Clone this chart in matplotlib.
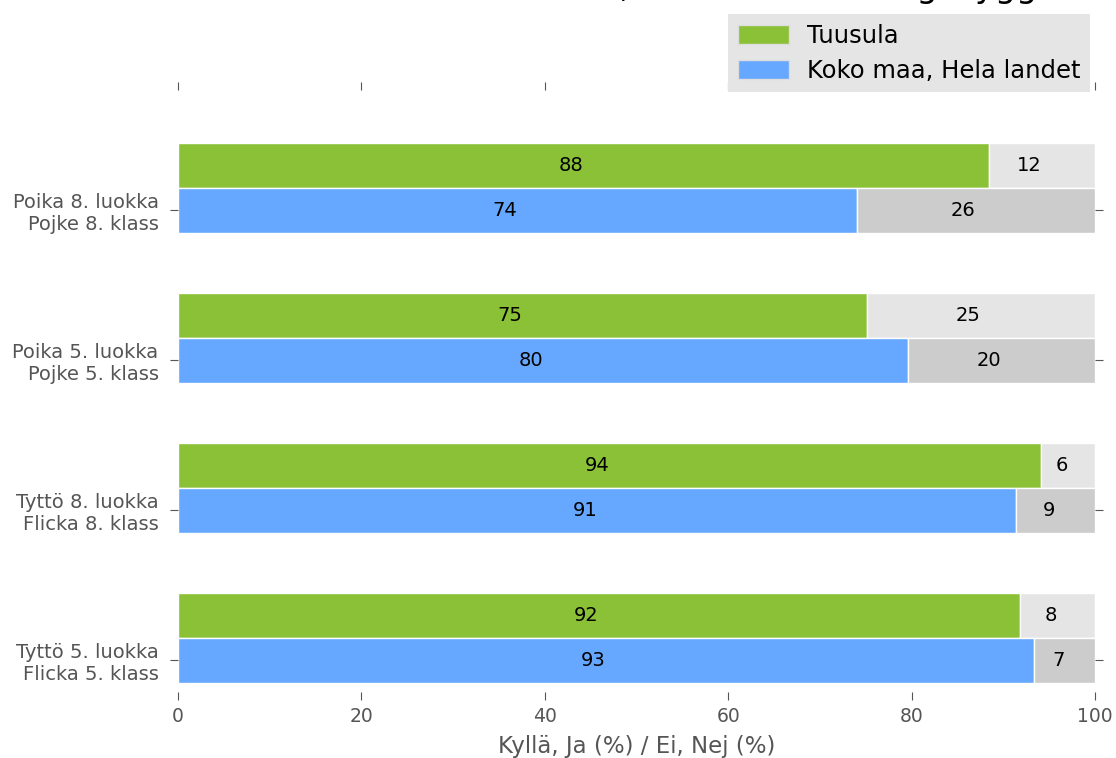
import numpy as np
import matplotlib
matplotlib.use('Agg')
import matplotlib.pyplot as plt
from matplotlib.patches import Patch

# data, top group first
groups = ['Poika 8. luokka\nPojke 8. klass',
          'Poika 5. luokka\nPojke 5. klass',
          'Tyttö 8. luokka\nFlicka 8. klass',
          'Tyttö 5. luokka\nFlicka 5. klass']
tuusula = [88.4, 75.1, 94.1, 91.8]     # Kyllä / Ja, Tuusula
koko_maa = [74.0, 79.6, 91.4, 93.3]    # Kyllä / Ja, Koko maa
series_names = ['Tuusula', 'Koko maa, Hela landet']
xticks = [0, 20, 40, 60, 80, 100]
title = 'Oppilas tuntee olonsa turvalliseksi koulussa, Eleven känner sig trygg i skolan, %'
xlabel = 'Kyllä, Ja (%) / Ei, Nej (%)'

green = '#8BC136'
blue = '#66A8FF'
grey_light = '#E5E5E5'
grey_dark = '#CCCCCC'
txt_grey = '#555555'

fig = plt.figure(figsize=(11.16, 7.58), dpi=100)
ax = fig.add_axes([0.1595, 0.0871, 0.8217, 0.7942])

pos = np.arange(len(groups))[::-1]   # top group highest
h = 0.3
tu = np.array(tuusula)
km = np.array(koko_maa)

ax.barh(pos + h / 2, tu, height=h, color=green, edgecolor='white', linewidth=1)
ax.barh(pos + h / 2, 100 - tu, left=tu, height=h, color=grey_light, edgecolor='white', linewidth=1)
ax.barh(pos - h / 2, km, height=h, color=blue, edgecolor='white', linewidth=1)
ax.barh(pos - h / 2, 100 - km, left=km, height=h, color=grey_dark, edgecolor='white', linewidth=1)

# value labels (right edge sits at the middle of each segment, like the original)
for p, a, b in zip(pos, tu, km):
    ax.text(a / 2, p + h / 2, '%.0f' % a, ha='right', va='center', fontsize=14, color='black')
    ax.text(a + (100 - a) / 2, p + h / 2, '%.0f' % (100 - a), ha='right', va='center', fontsize=14, color='black')
    ax.text(b / 2, p - h / 2, '%.0f' % b, ha='right', va='center', fontsize=14, color='black')
    ax.text(b + (100 - b) / 2, p - h / 2, '%.0f' % (100 - b), ha='right', va='center', fontsize=14, color='black')

ax.set_xlim(0, 100)
ax.set_ylim(-0.36, 3.653)
ax.set_xticks(xticks)
# tick sits at the middle of the lower (Koko maa) bar
ax.set_yticks(pos - h / 2)
ax.set_yticklabels(groups, fontsize=14, color=txt_grey)
ax.tick_params(axis='x', labelsize=13.5, labelcolor=txt_grey, pad=5)
ax.tick_params(axis='y', pad=8)
ax.tick_params(direction='out', length=6, color=txt_grey, top=True, right=True,
               labeltop=False, labelright=False)
for s in ax.spines.values():
    s.set_visible(False)
ax.set_xlabel(xlabel, fontsize=16.5, color=txt_grey, labelpad=6)

handles = [Patch(facecolor=green, edgecolor='#dddddd'), Patch(facecolor=blue, edgecolor='#dddddd')]
leg = fig.legend(handles, series_names, loc='upper right', bbox_to_anchor=(1090 / 1116, 1 - 14 / 758),
                 fontsize=17.5, fancybox=False, framealpha=1, facecolor=grey_light, edgecolor='none',
                 handlelength=2.1, handleheight=0.8, borderpad=0.4, labelspacing=0.45,
                 borderaxespad=0, handletextpad=0.75)

# title is cut off at the top edge in the reference
fig.text(0.5, 1 + 3 / 758, title, ha='center', va='baseline', fontsize=24, color='black')

fig.savefig('out.png', dpi=100)
